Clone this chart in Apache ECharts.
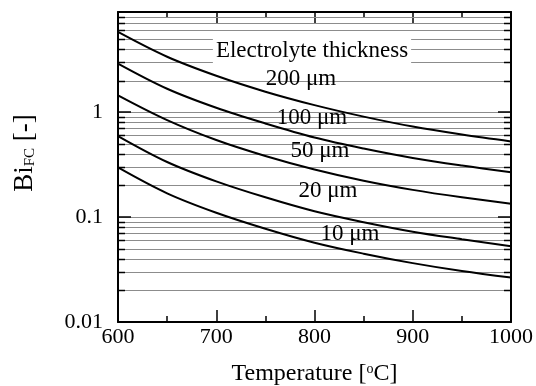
<!DOCTYPE html>
<html>
<head>
<meta charset="utf-8">
<script src="https://cdn.jsdelivr.net/npm/echarts@6/dist/echarts.min.js"></script>
<style>
  html, body { margin: 0; padding: 0; background: #fff; }
  #chart { width: 536px; height: 386px; }
</style>
</head>
<body>
<div id="chart"></div>
<script>
// temperature [°C] and Bi_FC, one list per electrolyte thickness
const temperature = [600, 650, 700, 750, 800, 850, 900, 950, 1000]
const bi200 = [5.81, 3.37, 2.22, 1.566, 1.166, 0.906, 0.728, 0.611, 0.525]
const bi100 = [2.9, 1.67, 1.1, 0.78, 0.573, 0.45, 0.366, 0.31, 0.268]
const bi50 = [1.444, 0.839, 0.542, 0.382, 0.284, 0.222, 0.1816, 0.1542, 0.1338]
const bi20 = [0.5916, 0.335, 0.2188, 0.1542, 0.1135, 0.0893, 0.0725, 0.0615, 0.0528]
const bi10 = [0.297, 0.1683, 0.1099, 0.0774, 0.057, 0.0448, 0.0364, 0.0306, 0.0265]
const curveNames = ['200 μm', '100 μm', '50 μm', '20 μm', '10 μm']

// minor log grid lines (2..9 of every decade)
const minorY = [
  0.02, 0.03, 0.04, 0.05, 0.06, 0.07, 0.08, 0.09,
  0.2, 0.3, 0.4, 0.5, 0.6, 0.7, 0.8, 0.9,
  2, 3, 4, 5, 6, 7, 8
]

const FONT = 'Liberation Serif'
const GRID_GRAY = '#8c8c8c'
const chart = echarts.init(document.getElementById('chart'))

const pairs = (vals) => temperature.map((t, i) => [t, vals[i]])

const curve = (name, vals) => ({
  name: name,
  type: 'line',
  data: pairs(vals),
  smooth: 0.35,
  symbol: 'none',
  z: 5,
  lineStyle: { color: '#000', width: 2 }
})

const xCommon = {
  type: 'value',
  min: 600,
  max: 1000,
  interval: 100,
  axisLine: { lineStyle: { color: '#000', width: 2 } },
  axisTick: { inside: true, length: 12, lineStyle: { color: '#000', width: 1.5 } },
  minorTick: { show: true, splitNumber: 2, length: 6, lineStyle: { color: '#000', width: 1.5 } },
  splitLine: { show: false }
}

const yCommon = {
  type: 'log',
  logBase: 10,
  min: 0.01,
  max: 9,
  axisLine: { lineStyle: { color: '#000', width: 2 } },
  axisTick: { inside: true, length: 13, lineStyle: { color: '#000', width: 1.5 } }
}

const labelText = (x, y, text, extra) => ({
  type: 'text', z: 50, x: x, y: y,
  style: Object.assign({
    text: text, font: '23px "Liberation Serif"', fill: '#000',
    align: 'center', verticalAlign: 'middle'
  }, extra || {})
})

const option = {
  animation: false,
  grid: { left: 118, right: 25, top: 12, bottom: 64, outerBoundsMode: 'none' },
  xAxis: [
    {
      ...xCommon,
      position: 'bottom',
      axisLabel: {
        color: '#000', fontFamily: FONT, fontSize: 22, margin: 4,
        formatter: (v) => String(v)
      },
      name: 'Temperature [{sup|o}C]',
      nameLocation: 'middle',
      nameGap: 40,
      nameTextStyle: {
        color: '#000', fontFamily: FONT, fontSize: 24,
        rich: {
          sup: { fontFamily: FONT, fontSize: 14, color: '#000', verticalAlign: 'top' }
        }
      }
    },
    { ...xCommon, position: 'top', axisLabel: { show: false } }
  ],
  yAxis: [
    {
      ...yCommon,
      position: 'left',
      splitLine: { show: true, lineStyle: { color: GRID_GRAY, width: 1 } },
      axisLabel: {
        color: '#000', fontFamily: FONT, fontSize: 22, margin: 15,
        showMaxLabel: false,
        formatter: (v) => String(v)
      },
      name: 'Bi{sub|FC} [-]',
      nameLocation: 'middle',
      nameRotate: 90,
      nameGap: 80,
      nameTextStyle: {
        color: '#000', fontFamily: FONT, fontSize: 27,
        padding: [0, 0, 0, 28],
        rich: {
          sub: { fontFamily: FONT, fontSize: 15, color: '#000', verticalAlign: 'bottom' }
        }
      }
    },
    { ...yCommon, position: 'right', axisLabel: { show: false }, splitLine: { show: false } }
  ],
  series: [
    {
      type: 'custom',
      silent: true,
      z: 1,
      data: minorY.map(v => [600, v]),
      renderItem: (params, api) => {
        const cs = params.coordSys
        const y = Math.round(api.coord([600, api.value(1)])[1]) + 0.5
        const x0 = cs.x
        const x1 = cs.x + cs.width
        return {
          type: 'group',
          children: [
            { type: 'line', shape: { x1: x0, y1: y, x2: x1, y2: y }, style: { stroke: GRID_GRAY, lineWidth: 1 } },
            { type: 'line', shape: { x1: x0, y1: y, x2: x0 + 7, y2: y }, style: { stroke: '#000', lineWidth: 1.5 } },
            { type: 'line', shape: { x1: x1 - 7, y1: y, x2: x1, y2: y }, style: { stroke: '#000', lineWidth: 1.5 } }
          ]
        }
      }
    },
    curve(curveNames[0], bi200),
    curve(curveNames[1], bi100),
    curve(curveNames[2], bi50),
    curve(curveNames[3], bi20),
    curve(curveNames[4], bi10)
  ],
  graphic: [
    labelText(312, 51, 'Electrolyte thickness', { backgroundColor: '#fff', padding: [5, 3, 5, 3] }),
    labelText(301, 79, curveNames[0]),
    labelText(312, 118, curveNames[1]),
    labelText(320, 151, curveNames[2]),
    labelText(328, 191, curveNames[3]),
    labelText(350, 234, curveNames[4])
  ]
}

chart.setOption(option)
</script>
</body>
</html>
